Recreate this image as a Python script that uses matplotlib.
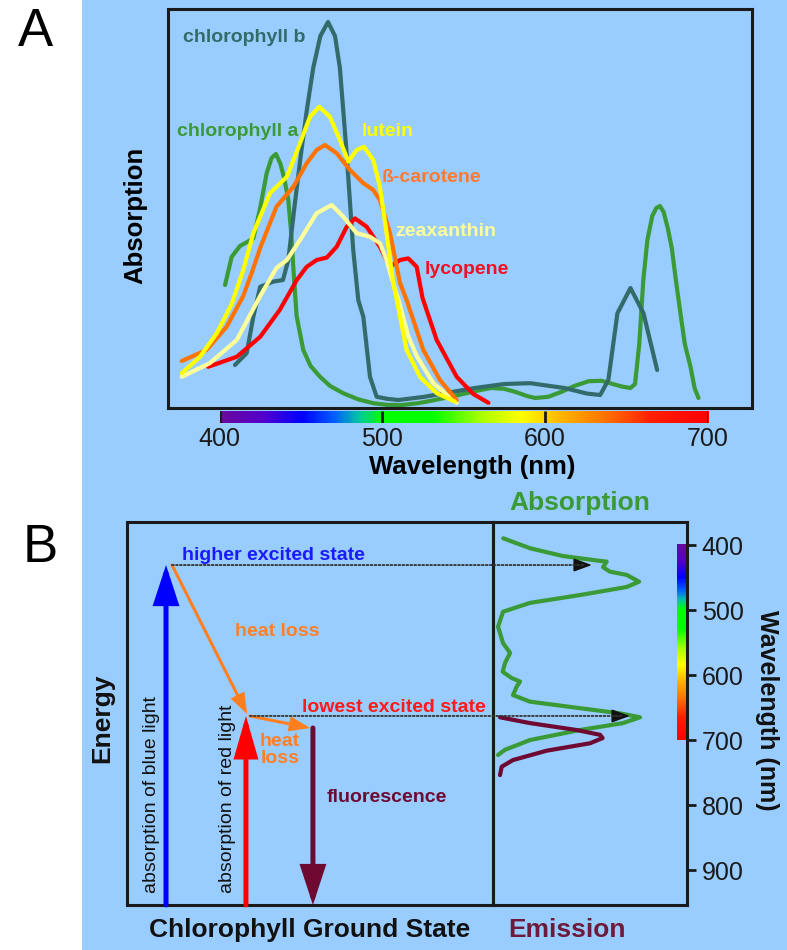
import numpy as np
import matplotlib
matplotlib.use('Agg')
import matplotlib.pyplot as plt
from matplotlib.colors import LinearSegmentedColormap
from matplotlib.patches import Rectangle, ConnectionPatch

plt.rcParams['font.family'] = ['Liberation Sans', 'DejaVu Sans']

# ---------------- absorption spectra (panel A) ----------------
wl_chl_b = [409.5, 416.7, 420.8, 425, 433, 439, 442.3, 446, 449.6, 453.5, 457.6, 462, 466.7,
            471, 474, 478, 482.2, 485.3, 488.4, 492.5, 496.6, 503, 510, 526, 540, 557, 575,
            591, 612, 626, 634, 639, 644.6, 652.6, 660.6, 669]
abs_chl_b = [10.75, 13.7, 22.8, 30.3, 31.6, 32, 37, 50, 62, 74, 85, 93, 96.5,
             93, 85, 64.5, 39.5, 27, 22.8, 7.8, 2.8, 2.3, 2, 2.8, 3.8, 5, 6,
             6.2, 5, 3.6, 3.25, 7, 23.7, 30, 23.7, 9.5]

wl_chl_a = [403.4, 407.5, 412.6, 417, 420.8, 425, 429, 432, 434.7, 437.5, 440, 442.3, 444,
            445.4, 447.4, 451.5, 456, 461.8, 468, 476, 485, 494.5, 503, 512, 522, 530, 547,
            558, 567, 575, 582, 589, 594, 602, 610, 618, 627, 635, 641.7, 648, 652.6, 655.4,
            658, 660.5, 663, 666, 668.5, 670.7, 673, 675.5, 678, 680.5, 683.3, 686, 689.5,
            692, 694.4]
abs_chl_a = [30.75, 37.8, 40.5, 41.5, 42.4, 50, 58.7, 62.5, 63.5, 61, 57, 52, 44,
             35, 23, 14.5, 10.5, 7.8, 5.5, 3.7, 2.2, 1.2, 0.8, 0.75, 1.2, 1.8, 3.25,
             4.3, 5, 4.8, 4, 3, 2.5, 2.8, 4, 5.5, 6.7, 6.8, 6, 5.3, 5, 6,
             16, 32, 42, 48, 50, 50.5, 49, 45, 40, 32, 23.7, 16, 10.3,
             5, 2.5]

wl_lutein = [376.8, 388, 398.3, 407.5, 414.6, 420.8, 431, 441.4, 449.5, 455.6, 461.3, 467.9,
             474, 479.2, 484.3, 488.8, 494.5, 498.6, 502.7, 506.8, 509, 515, 523.2, 533.5, 544.7]
abs_lutein = [8.7, 12.8, 18.7, 26, 34.5, 43.7, 53.7, 57.8, 66.2, 72.8, 75.3, 72.8,
              67, 61.6, 64.5, 65.3, 62, 55.3, 43.7, 31.2, 27, 14.5, 7.8, 3.7, 1.6]

wl_carotene = [376.8, 392, 404.4, 414.6, 420, 425, 435, 445.4, 453.6, 459.7, 464.8, 472,
               480.2, 488.4, 494.5, 498.6, 504.8, 511, 515, 525.3, 535.5, 545.8]
abs_carotene = [11.75, 14.5, 20.3, 28, 34, 40, 50.3, 55.3, 61.2, 64.5, 65.75, 63.7,
                59.5, 56.2, 54.5, 52, 43.7, 31.2, 27, 14.5, 7, 2]

wl_zeaxanthin = [376.8, 394, 410.6, 425, 435, 441.4, 449.5, 459.7, 469, 476.1, 484.3, 492.5,
                 498.6, 502.7, 506.8, 510, 516, 521.2, 531.4, 545.8]
abs_zeaxanthin = [7.8, 11.2, 17, 28, 35, 37, 42, 48.7, 50.75, 47.8, 43.7, 42.8,
                  41.2, 37, 31, 27, 18, 13, 6.2, 1.3]

wl_lycopene = [393, 410.6, 425, 437, 447.5, 453.6, 459.7, 465.9, 472, 478.2, 483.3, 490.5,
               498.6, 504.8, 511, 516, 521.2, 524.8, 533.5, 545.8, 556, 565.3]
abs_lycopene = [10.3, 12.8, 17.8, 24.5, 32, 35.3, 37, 37.6, 40.3, 45.3, 47.4, 45.3,
                40.3, 35.3, 37, 37.4, 35.3, 27.5, 17, 7.8, 3.5, 1.3]

# ---------------- chlorophyll a absorption / emission (panel B, rotated) ----------------
absb_x = [0.053, 0.191, 0.361, 0.515, 0.586, 0.567, 0.603, 0.689, 0.753, 0.689, 0.448, 0.191,
          0.052, 0.026, 0.052, 0.088, 0.062, 0.05, 0.096, 0.139, 0.122, 0.103, 0.191, 0.448,
          0.655, 0.758, 0.67, 0.448, 0.191, 0.062, 0.026]
absb_wl = [389.7, 405, 417, 423, 425.6, 434, 441, 446, 456.4, 464.6, 477, 489,
           502.6, 525.6, 551, 566, 581.5, 595, 604.6, 610, 618, 630.8, 641, 651,
           659, 665, 674, 684.6, 700, 715, 723]
emis_x = [0.036, 0.191, 0.431, 0.552, 0.565, 0.5, 0.277, 0.103, 0.045, 0.036]
emis_wl = [665, 674, 684.6, 692, 697, 705, 716.4, 730.8, 741, 754]

level_high = 430.8   # higher excited state (nm)
level_low = 663.0    # lowest excited state (nm)
fluor_wl = 681.5     # start of fluorescence after heat loss

ticks_a = [400, 500, 600, 700]
ticks_b = [400, 500, 600, 700, 800, 900]

spec_nm = [400, 425, 450, 470, 485, 500, 530, 560, 585, 610, 635, 665, 700]
spec_col = ['#6a0a9e', '#5500cc', '#0000ff', '#0060ff', '#00c8a0', '#00ff00', '#00ff00',
            '#a8ff00', '#ffff00', '#ffb400', '#ff7800', '#ff2000', '#ff0000']

BG = '#99ccff'
W, H = 787, 950


def fx(x):
    return x / W


def fy(y):
    return 1 - y / H


def box(x0, y0, x1, y1):
    return [x0 / W, 1 - y1 / H, (x1 - x0) / W, (y1 - y0) / H]


spec_cmap = LinearSegmentedColormap.from_list(
    'spec', [((n - 400) / 300, c) for n, c in zip(spec_nm, spec_col)])
grad = np.linspace(0, 1, 300)

fig = plt.figure(figsize=(W / 100, H / 100), dpi=100)
fig.patch.set_facecolor('white')
fig.add_artist(Rectangle((fx(82), 0), 1 - fx(82), 1, transform=fig.transFigure,
                         facecolor=BG, edgecolor='none', zorder=-5))

# ================= panel A =================
axA = fig.add_axes(box(168, 9, 752, 408))
axA.set_facecolor('none')
axA.set_xlim(368.35, 727.3)
axA.set_ylim(0, 99.75)
axA.set_xticks([])
axA.set_yticks([])
for s in axA.spines.values():
    s.set_linewidth(2.2)
    s.set_color('#1a1a1a')

lw = 3.0
axA.plot(wl_chl_a, abs_chl_a, color='#3a9a35', lw=lw, solid_capstyle='round', solid_joinstyle='round')
axA.plot(wl_chl_b, abs_chl_b, color='#336b6b', lw=lw, solid_capstyle='round', solid_joinstyle='round')
axA.plot(wl_lycopene, abs_lycopene, color='#ff0000', lw=lw, solid_capstyle='round', solid_joinstyle='round')
axA.plot(wl_zeaxanthin, abs_zeaxanthin, color='#ffff99', lw=lw, solid_capstyle='round', solid_joinstyle='round')
axA.plot(wl_carotene, abs_carotene, color='#ff7300', lw=lw, solid_capstyle='round', solid_joinstyle='round')
axA.plot(wl_lutein, abs_lutein, color='#ffff00', lw=lw, solid_capstyle='round', solid_joinstyle='round')

lab = dict(fontsize=14, fontweight='bold', va='center', ha='left')
fig.text(fx(183), fy(37), 'chlorophyll b', color='#336b6b', **lab)
fig.text(fx(177), fy(132), 'chlorophyll a', color='#3a9a35', **lab)
fig.text(fx(362), fy(131), 'lutein', color='#ffff00', **lab)
fig.text(fx(382), fy(177), 'ß-carotene', color='#ff7a30', **lab)
fig.text(fx(395), fy(232), 'zeaxanthin', color='#ffff99', **lab)
fig.text(fx(425), fy(270), 'lycopene', color='#ee1122', **lab)

fig.text(fx(135), fy(215), 'Absorption', rotation=90, fontsize=18.5, fontweight='bold',
         ha='center', va='center')

# wavelength colour bar under panel A
cax = fig.add_axes(box(219.5, 411, 707.6, 423))
cax.imshow(grad[None, :], cmap=spec_cmap, extent=(400, 700, 0, 1), aspect='auto')
cax.set_xlim(400, 700)
cax.set_ylim(0, 1)
cax.vlines(ticks_a, 0, 1, color='#1a1a1a', lw=2)
for s in cax.spines.values():
    s.set_visible(False)
cax.set_yticks([])
cax.set_xticks(ticks_a)
cax.set_xticklabels([str(t) for t in ticks_a])
cax.tick_params(axis='x', length=0, labelsize=18, pad=3, colors='#1a1a1a')
fig.text(fx(472), fy(467), 'Wavelength (nm)', fontsize=18.5, fontweight='bold',
         ha='center', va='center')

# ================= panel B =================
ylo, yhi = 953.8, 364.6
axL = fig.add_axes(box(127, 522, 493, 905))
axR = fig.add_axes(box(493, 522, 687, 905))
for ax in (axL, axR):
    ax.set_facecolor('none')
    ax.set_ylim(ylo, yhi)
    ax.set_xlim(0, 1)
    for s in ax.spines.values():
        s.set_linewidth(2.2)
        s.set_color('#1a1a1a')
axL.set_xticks([])
axL.set_yticks([])
axR.set_xticks([])
axR.yaxis.tick_right()
axR.set_yticks(ticks_b)
axR.set_yticklabels([str(t) for t in ticks_b])
axR.tick_params(axis='y', direction='out', length=6.5, width=2, labelsize=18, pad=4,
                colors='#1a1a1a')

# vertical colour bar in the right panel
axR.imshow(grad[:, None], cmap=spec_cmap, extent=(0.948, 0.995, 700, 400),
           aspect='auto', origin='upper', zorder=1)
axR.set_xlim(0, 1)
axR.set_ylim(ylo, yhi)

axR.plot(absb_x, absb_wl, color='#3a9a35', lw=3, solid_capstyle='round', solid_joinstyle='round')
axR.plot(emis_x, emis_wl, color='#6e0a32', lw=3, solid_capstyle='round', solid_joinstyle='round')

# dotted guides from the energy levels to the absorption peaks
for x_start, lvl, x_tip in [(0.123, level_high, 0.51), (0.336, level_low, 0.706)]:
    con = ConnectionPatch(xyA=(x_start, lvl), coordsA=axL.transData,
                          xyB=(x_tip - 0.04, lvl), coordsB=axR.transData,
                          linestyle=(0, (1, 1.2)), color='#333333', lw=1.3)
    fig.add_artist(con)
    axR.annotate('', xy=(x_tip, lvl), xytext=(x_tip - 0.07, lvl),
                 arrowprops=dict(arrowstyle='-|>,head_length=0.55,head_width=0.2',
                                 color='#111111', lw=1.2, shrinkA=0, shrinkB=0,
                                 mutation_scale=20))


def arrow(ax, tail, tip, color, lw, hl, hw):
    ax.annotate('', xy=tip, xytext=tail,
                arrowprops=dict(arrowstyle=f'-|>,head_length={hl},head_width={hw}',
                                color=color, lw=lw, shrinkA=0, shrinkB=0,
                                mutation_scale=20, joinstyle='miter'))


x_blue, x_red, x_fl = 0.1066, 0.325, 0.508
arrow(axL, (x_blue, ylo), (x_blue, level_high), '#0000ff', 3.6, 1.1, 0.36)
arrow(axL, (x_red, ylo), (x_red, level_low), '#ff0000', 3.6, 1.15, 0.33)
arrow(axL, (0.123, level_high), (0.328, level_low - 3), '#ff7f1e', 2.2, 0.55, 0.2)
arrow(axL, (0.336, level_low), (0.5, fluor_wl), '#ff7f1e', 2.2, 0.55, 0.2)
arrow(axL, (x_fl, fluor_wl), (x_fl, ylo), '#6e0a32', 3.6, 1.1, 0.36)

tb = dict(fontsize=14, fontweight='bold', va='center')
fig.text(fx(182), fy(556), 'higher excited state', color='#1a1aff', ha='left', **tb)
fig.text(fx(277), fy(632), 'heat loss', color='#ff7f27', ha='center', **tb)
fig.text(fx(302), fy(708), 'lowest excited state', color='#ff1a1a', ha='left', **tb)
fig.text(fx(280), fy(750), 'heat\nloss', color='#ff7f27', ha='center', linespacing=1.0, **tb)
fig.text(fx(327), fy(798), 'fluorescence', color='#6e0a32', ha='left', **tb)
fig.text(fx(152), fy(893), 'absorption of blue light', rotation=90, fontsize=14,
         ha='center', va='bottom', color='#111111')
fig.text(fx(227), fy(893), 'absorption of red light', rotation=90, fontsize=14,
         ha='center', va='bottom', color='#111111')

fig.text(fx(580), fy(503), 'Absorption', color='#3a9a35', fontsize=19, fontweight='bold',
         ha='center', va='center')
fig.text(fx(567), fy(930), 'Emission', color='#6e1a3a', fontsize=19, fontweight='bold',
         ha='center', va='center')
fig.text(fx(310), fy(930), 'Chlorophyll Ground State', fontsize=19, fontweight='bold',
         ha='center', va='center', color='#111111')
fig.text(fx(102), fy(718), 'Energy', rotation=90, fontsize=19, fontweight='bold',
         ha='center', va='center', color='#111111')
fig.text(fx(767), fy(710), 'Wavelength (nm)', rotation=270, fontsize=18, fontweight='bold',
         ha='center', va='center', color='#111111')

fig.text(fx(35), fy(32), 'A', fontsize=38, ha='center', va='center')
fig.text(fx(40), fy(548), 'B', fontsize=38, ha='center', va='center')

fig.savefig('out.png', dpi=100, facecolor=fig.get_facecolor())
